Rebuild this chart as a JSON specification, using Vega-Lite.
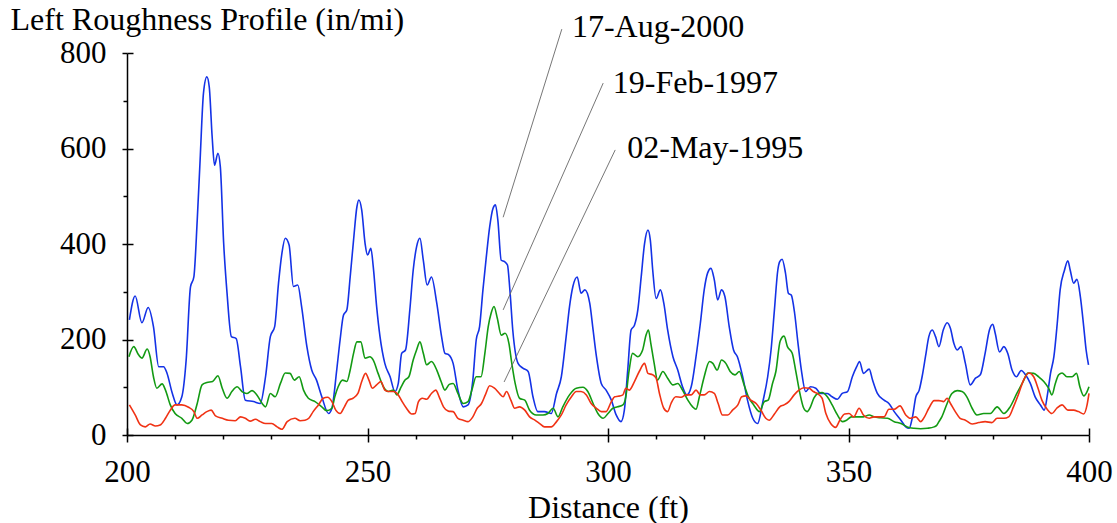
{
  "$schema": "https://vega.github.io/schema/vega-lite/v6.json",
  "width": 962,
  "height": 382,
  "autosize": {"type": "none"},
  "padding": {"left": 127, "top": 53, "right": 28, "bottom": 88},
  "background": "white",
  "config": {
    "view": {"stroke": null},
    "font": "Liberation Serif",
    "axis": {"grid": false, "domainColor": "black", "tickColor": "black", "labelColor": "black", "titleColor": "black", "labelFont": "Liberation Serif", "titleFont": "Liberation Serif", "titleFontWeight": "normal", "domainWidth": 1.5, "tickWidth": 1.5}
  },
  "datasets": {
    "profiles": [
      {"d":200.5,"v":241,"s":"17-Aug-2000"},{"d":201.7,"v":291,"s":"17-Aug-2000"},{"d":203.1,"v":235,"s":"17-Aug-2000"},{"d":204.4,"v":267,"s":"17-Aug-2000"},{"d":205.5,"v":227,"s":"17-Aug-2000"},{"d":206.6,"v":143,"s":"17-Aug-2000"},{"d":207.6,"v":143,"s":"17-Aug-2000"},{"d":208.3,"v":130,"s":"17-Aug-2000"},{"d":209.4,"v":88,"s":"17-Aug-2000"},{"d":210.4,"v":63,"s":"17-Aug-2000"},{"d":211.4,"v":80,"s":"17-Aug-2000"},{"d":212.3,"v":157,"s":"17-Aug-2000"},{"d":213.2,"v":310,"s":"17-Aug-2000"},{"d":213.9,"v":331,"s":"17-Aug-2000"},{"d":214.6,"v":450,"s":"17-Aug-2000"},{"d":215.2,"v":576,"s":"17-Aug-2000"},{"d":215.9,"v":716,"s":"17-Aug-2000"},{"d":216.6,"v":750,"s":"17-Aug-2000"},{"d":217.1,"v":729,"s":"17-Aug-2000"},{"d":217.7,"v":625,"s":"17-Aug-2000"},{"d":218.2,"v":565,"s":"17-Aug-2000"},{"d":218.9,"v":590,"s":"17-Aug-2000"},{"d":219.4,"v":562,"s":"17-Aug-2000"},{"d":220.1,"v":401,"s":"17-Aug-2000"},{"d":220.8,"v":297,"s":"17-Aug-2000"},{"d":221.7,"v":206,"s":"17-Aug-2000"},{"d":222.7,"v":202,"s":"17-Aug-2000"},{"d":223.6,"v":143,"s":"17-Aug-2000"},{"d":224.6,"v":73,"s":"17-Aug-2000"},{"d":226.3,"v":70,"s":"17-Aug-2000"},{"d":227.7,"v":66,"s":"17-Aug-2000"},{"d":228.8,"v":122,"s":"17-Aug-2000"},{"d":229.8,"v":206,"s":"17-Aug-2000"},{"d":230.7,"v":227,"s":"17-Aug-2000"},{"d":231.5,"v":318,"s":"17-Aug-2000"},{"d":232.2,"v":380,"s":"17-Aug-2000"},{"d":232.9,"v":412,"s":"17-Aug-2000"},{"d":233.7,"v":398,"s":"17-Aug-2000"},{"d":234.6,"v":311,"s":"17-Aug-2000"},{"d":235.5,"v":314,"s":"17-Aug-2000"},{"d":236.3,"v":269,"s":"17-Aug-2000"},{"d":237.4,"v":185,"s":"17-Aug-2000"},{"d":238.4,"v":136,"s":"17-Aug-2000"},{"d":239.4,"v":115,"s":"17-Aug-2000"},{"d":240.5,"v":80,"s":"17-Aug-2000"},{"d":241.9,"v":45,"s":"17-Aug-2000"},{"d":242.6,"v":56,"s":"17-Aug-2000"},{"d":243.6,"v":136,"s":"17-Aug-2000"},{"d":244.3,"v":199,"s":"17-Aug-2000"},{"d":245.0,"v":251,"s":"17-Aug-2000"},{"d":245.7,"v":262,"s":"17-Aug-2000"},{"d":246.4,"v":331,"s":"17-Aug-2000"},{"d":247.1,"v":408,"s":"17-Aug-2000"},{"d":247.8,"v":478,"s":"17-Aug-2000"},{"d":248.2,"v":492,"s":"17-Aug-2000"},{"d":248.8,"v":471,"s":"17-Aug-2000"},{"d":249.5,"v":401,"s":"17-Aug-2000"},{"d":250.0,"v":377,"s":"17-Aug-2000"},{"d":250.7,"v":391,"s":"17-Aug-2000"},{"d":251.2,"v":352,"s":"17-Aug-2000"},{"d":251.9,"v":269,"s":"17-Aug-2000"},{"d":252.6,"v":206,"s":"17-Aug-2000"},{"d":253.6,"v":150,"s":"17-Aug-2000"},{"d":254.7,"v":122,"s":"17-Aug-2000"},{"d":255.7,"v":91,"s":"17-Aug-2000"},{"d":256.4,"v":108,"s":"17-Aug-2000"},{"d":257.1,"v":171,"s":"17-Aug-2000"},{"d":257.9,"v":178,"s":"17-Aug-2000"},{"d":258.8,"v":262,"s":"17-Aug-2000"},{"d":259.5,"v":345,"s":"17-Aug-2000"},{"d":260.2,"v":394,"s":"17-Aug-2000"},{"d":260.9,"v":412,"s":"17-Aug-2000"},{"d":261.6,"v":366,"s":"17-Aug-2000"},{"d":262.4,"v":314,"s":"17-Aug-2000"},{"d":263.3,"v":331,"s":"17-Aug-2000"},{"d":264.4,"v":276,"s":"17-Aug-2000"},{"d":265.4,"v":206,"s":"17-Aug-2000"},{"d":266.1,"v":171,"s":"17-Aug-2000"},{"d":266.9,"v":168,"s":"17-Aug-2000"},{"d":267.8,"v":150,"s":"17-Aug-2000"},{"d":268.8,"v":94,"s":"17-Aug-2000"},{"d":269.9,"v":59,"s":"17-Aug-2000"},{"d":270.9,"v":63,"s":"17-Aug-2000"},{"d":271.9,"v":115,"s":"17-Aug-2000"},{"d":272.6,"v":199,"s":"17-Aug-2000"},{"d":273.3,"v":227,"s":"17-Aug-2000"},{"d":274.0,"v":304,"s":"17-Aug-2000"},{"d":274.7,"v":373,"s":"17-Aug-2000"},{"d":275.4,"v":436,"s":"17-Aug-2000"},{"d":276.1,"v":475,"s":"17-Aug-2000"},{"d":276.6,"v":482,"s":"17-Aug-2000"},{"d":277.1,"v":450,"s":"17-Aug-2000"},{"d":277.8,"v":366,"s":"17-Aug-2000"},{"d":278.5,"v":363,"s":"17-Aug-2000"},{"d":279.1,"v":356,"s":"17-Aug-2000"},{"d":279.6,"v":304,"s":"17-Aug-2000"},{"d":280.2,"v":220,"s":"17-Aug-2000"},{"d":281.3,"v":150,"s":"17-Aug-2000"},{"d":282.3,"v":140,"s":"17-Aug-2000"},{"d":283.4,"v":133,"s":"17-Aug-2000"},{"d":284.4,"v":80,"s":"17-Aug-2000"},{"d":285.4,"v":49,"s":"17-Aug-2000"},{"d":286.8,"v":49,"s":"17-Aug-2000"},{"d":288.2,"v":45,"s":"17-Aug-2000"},{"d":289.3,"v":87,"s":"17-Aug-2000"},{"d":290.3,"v":122,"s":"17-Aug-2000"},{"d":291.3,"v":206,"s":"17-Aug-2000"},{"d":292.0,"v":269,"s":"17-Aug-2000"},{"d":292.7,"v":311,"s":"17-Aug-2000"},{"d":293.6,"v":331,"s":"17-Aug-2000"},{"d":294.4,"v":297,"s":"17-Aug-2000"},{"d":295.2,"v":304,"s":"17-Aug-2000"},{"d":296.2,"v":276,"s":"17-Aug-2000"},{"d":296.9,"v":220,"s":"17-Aug-2000"},{"d":297.6,"v":164,"s":"17-Aug-2000"},{"d":298.6,"v":108,"s":"17-Aug-2000"},{"d":299.6,"v":94,"s":"17-Aug-2000"},{"d":300.7,"v":73,"s":"17-Aug-2000"},{"d":301.7,"v":42,"s":"17-Aug-2000"},{"d":302.7,"v":28,"s":"17-Aug-2000"},{"d":303.4,"v":52,"s":"17-Aug-2000"},{"d":304.1,"v":136,"s":"17-Aug-2000"},{"d":304.8,"v":220,"s":"17-Aug-2000"},{"d":305.5,"v":230,"s":"17-Aug-2000"},{"d":306.2,"v":262,"s":"17-Aug-2000"},{"d":306.9,"v":331,"s":"17-Aug-2000"},{"d":307.6,"v":401,"s":"17-Aug-2000"},{"d":308.3,"v":429,"s":"17-Aug-2000"},{"d":308.8,"v":408,"s":"17-Aug-2000"},{"d":309.3,"v":345,"s":"17-Aug-2000"},{"d":310.0,"v":286,"s":"17-Aug-2000"},{"d":310.9,"v":304,"s":"17-Aug-2000"},{"d":311.6,"v":276,"s":"17-Aug-2000"},{"d":312.4,"v":220,"s":"17-Aug-2000"},{"d":313.5,"v":164,"s":"17-Aug-2000"},{"d":314.5,"v":136,"s":"17-Aug-2000"},{"d":315.5,"v":101,"s":"17-Aug-2000"},{"d":316.4,"v":84,"s":"17-Aug-2000"},{"d":317.3,"v":101,"s":"17-Aug-2000"},{"d":318.3,"v":164,"s":"17-Aug-2000"},{"d":319.2,"v":234,"s":"17-Aug-2000"},{"d":320.0,"v":304,"s":"17-Aug-2000"},{"d":320.7,"v":339,"s":"17-Aug-2000"},{"d":321.4,"v":349,"s":"17-Aug-2000"},{"d":322.1,"v":325,"s":"17-Aug-2000"},{"d":322.8,"v":283,"s":"17-Aug-2000"},{"d":323.6,"v":304,"s":"17-Aug-2000"},{"d":324.3,"v":290,"s":"17-Aug-2000"},{"d":325.2,"v":227,"s":"17-Aug-2000"},{"d":326.1,"v":178,"s":"17-Aug-2000"},{"d":326.9,"v":164,"s":"17-Aug-2000"},{"d":328.0,"v":122,"s":"17-Aug-2000"},{"d":329.0,"v":73,"s":"17-Aug-2000"},{"d":330.1,"v":35,"s":"17-Aug-2000"},{"d":331.1,"v":24,"s":"17-Aug-2000"},{"d":332.2,"v":70,"s":"17-Aug-2000"},{"d":333.2,"v":122,"s":"17-Aug-2000"},{"d":333.9,"v":178,"s":"17-Aug-2000"},{"d":334.6,"v":262,"s":"17-Aug-2000"},{"d":335.3,"v":345,"s":"17-Aug-2000"},{"d":335.7,"v":363,"s":"17-Aug-2000"},{"d":336.2,"v":368,"s":"17-Aug-2000"},{"d":336.9,"v":339,"s":"17-Aug-2000"},{"d":337.5,"v":297,"s":"17-Aug-2000"},{"d":338.1,"v":293,"s":"17-Aug-2000"},{"d":338.8,"v":255,"s":"17-Aug-2000"},{"d":339.5,"v":192,"s":"17-Aug-2000"},{"d":340.2,"v":136,"s":"17-Aug-2000"},{"d":341.1,"v":91,"s":"17-Aug-2000"},{"d":342.1,"v":101,"s":"17-Aug-2000"},{"d":343.2,"v":98,"s":"17-Aug-2000"},{"d":344.2,"v":87,"s":"17-Aug-2000"},{"d":345.6,"v":87,"s":"17-Aug-2000"},{"d":346.6,"v":80,"s":"17-Aug-2000"},{"d":347.7,"v":75,"s":"17-Aug-2000"},{"d":348.7,"v":87,"s":"17-Aug-2000"},{"d":349.8,"v":91,"s":"17-Aug-2000"},{"d":350.8,"v":122,"s":"17-Aug-2000"},{"d":351.7,"v":143,"s":"17-Aug-2000"},{"d":352.3,"v":154,"s":"17-Aug-2000"},{"d":353.1,"v":129,"s":"17-Aug-2000"},{"d":354.3,"v":138,"s":"17-Aug-2000"},{"d":355.0,"v":115,"s":"17-Aug-2000"},{"d":356.0,"v":87,"s":"17-Aug-2000"},{"d":357.4,"v":73,"s":"17-Aug-2000"},{"d":358.4,"v":66,"s":"17-Aug-2000"},{"d":359.5,"v":49,"s":"17-Aug-2000"},{"d":360.9,"v":31,"s":"17-Aug-2000"},{"d":361.9,"v":17,"s":"17-Aug-2000"},{"d":362.6,"v":14,"s":"17-Aug-2000"},{"d":363.3,"v":38,"s":"17-Aug-2000"},{"d":364.0,"v":80,"s":"17-Aug-2000"},{"d":364.7,"v":94,"s":"17-Aug-2000"},{"d":365.3,"v":122,"s":"17-Aug-2000"},{"d":366.0,"v":164,"s":"17-Aug-2000"},{"d":366.7,"v":206,"s":"17-Aug-2000"},{"d":367.4,"v":220,"s":"17-Aug-2000"},{"d":368.1,"v":206,"s":"17-Aug-2000"},{"d":368.8,"v":185,"s":"17-Aug-2000"},{"d":369.7,"v":220,"s":"17-Aug-2000"},{"d":370.5,"v":235,"s":"17-Aug-2000"},{"d":371.2,"v":223,"s":"17-Aug-2000"},{"d":371.9,"v":192,"s":"17-Aug-2000"},{"d":372.6,"v":178,"s":"17-Aug-2000"},{"d":373.4,"v":185,"s":"17-Aug-2000"},{"d":374.3,"v":150,"s":"17-Aug-2000"},{"d":375.3,"v":105,"s":"17-Aug-2000"},{"d":376.4,"v":119,"s":"17-Aug-2000"},{"d":377.4,"v":126,"s":"17-Aug-2000"},{"d":378.4,"v":171,"s":"17-Aug-2000"},{"d":379.3,"v":220,"s":"17-Aug-2000"},{"d":380.0,"v":232,"s":"17-Aug-2000"},{"d":380.5,"v":213,"s":"17-Aug-2000"},{"d":381.4,"v":174,"s":"17-Aug-2000"},{"d":382.3,"v":185,"s":"17-Aug-2000"},{"d":383.1,"v":171,"s":"17-Aug-2000"},{"d":384.0,"v":136,"s":"17-Aug-2000"},{"d":384.9,"v":122,"s":"17-Aug-2000"},{"d":385.9,"v":135,"s":"17-Aug-2000"},{"d":386.8,"v":126,"s":"17-Aug-2000"},{"d":387.8,"v":108,"s":"17-Aug-2000"},{"d":388.8,"v":80,"s":"17-Aug-2000"},{"d":389.9,"v":63,"s":"17-Aug-2000"},{"d":390.7,"v":52,"s":"17-Aug-2000"},{"d":391.4,"v":87,"s":"17-Aug-2000"},{"d":392.0,"v":129,"s":"17-Aug-2000"},{"d":392.7,"v":164,"s":"17-Aug-2000"},{"d":393.4,"v":234,"s":"17-Aug-2000"},{"d":394.0,"v":304,"s":"17-Aug-2000"},{"d":394.9,"v":345,"s":"17-Aug-2000"},{"d":395.6,"v":365,"s":"17-Aug-2000"},{"d":396.1,"v":345,"s":"17-Aug-2000"},{"d":396.8,"v":318,"s":"17-Aug-2000"},{"d":397.5,"v":326,"s":"17-Aug-2000"},{"d":398.2,"v":290,"s":"17-Aug-2000"},{"d":398.9,"v":227,"s":"17-Aug-2000"},{"d":399.4,"v":178,"s":"17-Aug-2000"},{"d":399.9,"v":147,"s":"17-Aug-2000"},
      {"d":200.4,"v":164,"s":"19-Feb-1997"},{"d":201.4,"v":185,"s":"19-Feb-1997"},{"d":202.4,"v":168,"s":"19-Feb-1997"},{"d":203.1,"v":161,"s":"19-Feb-1997"},{"d":204.2,"v":180,"s":"19-Feb-1997"},{"d":204.8,"v":164,"s":"19-Feb-1997"},{"d":205.5,"v":122,"s":"19-Feb-1997"},{"d":206.2,"v":98,"s":"19-Feb-1997"},{"d":207.3,"v":107,"s":"19-Feb-1997"},{"d":208.0,"v":94,"s":"19-Feb-1997"},{"d":209.0,"v":63,"s":"19-Feb-1997"},{"d":210.0,"v":45,"s":"19-Feb-1997"},{"d":211.4,"v":35,"s":"19-Feb-1997"},{"d":212.5,"v":24,"s":"19-Feb-1997"},{"d":213.5,"v":31,"s":"19-Feb-1997"},{"d":214.6,"v":66,"s":"19-Feb-1997"},{"d":215.6,"v":105,"s":"19-Feb-1997"},{"d":216.6,"v":110,"s":"19-Feb-1997"},{"d":217.8,"v":112,"s":"19-Feb-1997"},{"d":218.9,"v":124,"s":"19-Feb-1997"},{"d":219.8,"v":98,"s":"19-Feb-1997"},{"d":220.8,"v":77,"s":"19-Feb-1997"},{"d":221.8,"v":91,"s":"19-Feb-1997"},{"d":222.9,"v":101,"s":"19-Feb-1997"},{"d":223.9,"v":91,"s":"19-Feb-1997"},{"d":224.9,"v":87,"s":"19-Feb-1997"},{"d":226.0,"v":93,"s":"19-Feb-1997"},{"d":227.0,"v":84,"s":"19-Feb-1997"},{"d":228.1,"v":66,"s":"19-Feb-1997"},{"d":228.8,"v":59,"s":"19-Feb-1997"},{"d":229.8,"v":87,"s":"19-Feb-1997"},{"d":230.8,"v":80,"s":"19-Feb-1997"},{"d":231.9,"v":108,"s":"19-Feb-1997"},{"d":232.9,"v":130,"s":"19-Feb-1997"},{"d":233.9,"v":129,"s":"19-Feb-1997"},{"d":234.8,"v":115,"s":"19-Feb-1997"},{"d":235.8,"v":122,"s":"19-Feb-1997"},{"d":236.7,"v":94,"s":"19-Feb-1997"},{"d":237.7,"v":77,"s":"19-Feb-1997"},{"d":239.1,"v":70,"s":"19-Feb-1997"},{"d":240.5,"v":59,"s":"19-Feb-1997"},{"d":241.5,"v":51,"s":"19-Feb-1997"},{"d":242.6,"v":56,"s":"19-Feb-1997"},{"d":243.2,"v":80,"s":"19-Feb-1997"},{"d":243.9,"v":101,"s":"19-Feb-1997"},{"d":244.8,"v":115,"s":"19-Feb-1997"},{"d":245.7,"v":112,"s":"19-Feb-1997"},{"d":246.4,"v":136,"s":"19-Feb-1997"},{"d":247.1,"v":171,"s":"19-Feb-1997"},{"d":247.8,"v":195,"s":"19-Feb-1997"},{"d":248.6,"v":195,"s":"19-Feb-1997"},{"d":249.5,"v":161,"s":"19-Feb-1997"},{"d":250.5,"v":164,"s":"19-Feb-1997"},{"d":251.2,"v":157,"s":"19-Feb-1997"},{"d":252.2,"v":129,"s":"19-Feb-1997"},{"d":253.3,"v":101,"s":"19-Feb-1997"},{"d":254.3,"v":91,"s":"19-Feb-1997"},{"d":255.4,"v":94,"s":"19-Feb-1997"},{"d":256.1,"v":84,"s":"19-Feb-1997"},{"d":257.0,"v":101,"s":"19-Feb-1997"},{"d":257.8,"v":115,"s":"19-Feb-1997"},{"d":258.6,"v":122,"s":"19-Feb-1997"},{"d":259.5,"v":157,"s":"19-Feb-1997"},{"d":260.2,"v":178,"s":"19-Feb-1997"},{"d":260.9,"v":195,"s":"19-Feb-1997"},{"d":261.6,"v":171,"s":"19-Feb-1997"},{"d":262.3,"v":147,"s":"19-Feb-1997"},{"d":263.3,"v":154,"s":"19-Feb-1997"},{"d":264.4,"v":136,"s":"19-Feb-1997"},{"d":265.3,"v":112,"s":"19-Feb-1997"},{"d":266.1,"v":94,"s":"19-Feb-1997"},{"d":267.0,"v":106,"s":"19-Feb-1997"},{"d":267.8,"v":108,"s":"19-Feb-1997"},{"d":268.8,"v":87,"s":"19-Feb-1997"},{"d":269.9,"v":66,"s":"19-Feb-1997"},{"d":270.9,"v":70,"s":"19-Feb-1997"},{"d":271.7,"v":94,"s":"19-Feb-1997"},{"d":272.6,"v":122,"s":"19-Feb-1997"},{"d":273.6,"v":122,"s":"19-Feb-1997"},{"d":274.4,"v":171,"s":"19-Feb-1997"},{"d":275.1,"v":227,"s":"19-Feb-1997"},{"d":275.7,"v":255,"s":"19-Feb-1997"},{"d":276.3,"v":269,"s":"19-Feb-1997"},{"d":277.0,"v":244,"s":"19-Feb-1997"},{"d":277.8,"v":209,"s":"19-Feb-1997"},{"d":278.6,"v":213,"s":"19-Feb-1997"},{"d":279.4,"v":192,"s":"19-Feb-1997"},{"d":280.0,"v":150,"s":"19-Feb-1997"},{"d":280.7,"v":108,"s":"19-Feb-1997"},{"d":281.6,"v":77,"s":"19-Feb-1997"},{"d":282.7,"v":73,"s":"19-Feb-1997"},{"d":283.7,"v":52,"s":"19-Feb-1997"},{"d":285.1,"v":42,"s":"19-Feb-1997"},{"d":286.5,"v":42,"s":"19-Feb-1997"},{"d":287.5,"v":45,"s":"19-Feb-1997"},{"d":288.6,"v":56,"s":"19-Feb-1997"},{"d":289.6,"v":38,"s":"19-Feb-1997"},{"d":290.6,"v":59,"s":"19-Feb-1997"},{"d":292.0,"v":84,"s":"19-Feb-1997"},{"d":293.4,"v":98,"s":"19-Feb-1997"},{"d":294.8,"v":100,"s":"19-Feb-1997"},{"d":295.8,"v":91,"s":"19-Feb-1997"},{"d":296.9,"v":66,"s":"19-Feb-1997"},{"d":297.9,"v":45,"s":"19-Feb-1997"},{"d":299.0,"v":35,"s":"19-Feb-1997"},{"d":300.0,"v":45,"s":"19-Feb-1997"},{"d":301.0,"v":56,"s":"19-Feb-1997"},{"d":302.0,"v":59,"s":"19-Feb-1997"},{"d":303.1,"v":63,"s":"19-Feb-1997"},{"d":303.7,"v":80,"s":"19-Feb-1997"},{"d":304.4,"v":136,"s":"19-Feb-1997"},{"d":305.1,"v":171,"s":"19-Feb-1997"},{"d":306.2,"v":164,"s":"19-Feb-1997"},{"d":307.2,"v":178,"s":"19-Feb-1997"},{"d":307.9,"v":209,"s":"19-Feb-1997"},{"d":308.4,"v":220,"s":"19-Feb-1997"},{"d":308.9,"v":192,"s":"19-Feb-1997"},{"d":309.6,"v":150,"s":"19-Feb-1997"},{"d":310.3,"v":115,"s":"19-Feb-1997"},{"d":311.4,"v":133,"s":"19-Feb-1997"},{"d":312.4,"v":119,"s":"19-Feb-1997"},{"d":313.5,"v":105,"s":"19-Feb-1997"},{"d":314.5,"v":108,"s":"19-Feb-1997"},{"d":315.5,"v":94,"s":"19-Feb-1997"},{"d":316.6,"v":73,"s":"19-Feb-1997"},{"d":317.6,"v":59,"s":"19-Feb-1997"},{"d":318.3,"v":54,"s":"19-Feb-1997"},{"d":319.0,"v":80,"s":"19-Feb-1997"},{"d":320.0,"v":122,"s":"19-Feb-1997"},{"d":321.1,"v":154,"s":"19-Feb-1997"},{"d":321.8,"v":150,"s":"19-Feb-1997"},{"d":322.7,"v":136,"s":"19-Feb-1997"},{"d":323.6,"v":157,"s":"19-Feb-1997"},{"d":324.5,"v":150,"s":"19-Feb-1997"},{"d":325.4,"v":133,"s":"19-Feb-1997"},{"d":326.4,"v":126,"s":"19-Feb-1997"},{"d":327.3,"v":133,"s":"19-Feb-1997"},{"d":328.2,"v":108,"s":"19-Feb-1997"},{"d":329.2,"v":80,"s":"19-Feb-1997"},{"d":330.3,"v":63,"s":"19-Feb-1997"},{"d":331.5,"v":49,"s":"19-Feb-1997"},{"d":332.5,"v":70,"s":"19-Feb-1997"},{"d":333.3,"v":73,"s":"19-Feb-1997"},{"d":334.2,"v":108,"s":"19-Feb-1997"},{"d":334.9,"v":133,"s":"19-Feb-1997"},{"d":335.8,"v":197,"s":"19-Feb-1997"},{"d":336.6,"v":207,"s":"19-Feb-1997"},{"d":337.3,"v":185,"s":"19-Feb-1997"},{"d":338.3,"v":171,"s":"19-Feb-1997"},{"d":339.0,"v":136,"s":"19-Feb-1997"},{"d":339.9,"v":87,"s":"19-Feb-1997"},{"d":340.7,"v":56,"s":"19-Feb-1997"},{"d":341.4,"v":49,"s":"19-Feb-1997"},{"d":342.1,"v":59,"s":"19-Feb-1997"},{"d":342.8,"v":77,"s":"19-Feb-1997"},{"d":343.6,"v":87,"s":"19-Feb-1997"},{"d":344.5,"v":89,"s":"19-Feb-1997"},{"d":345.6,"v":80,"s":"19-Feb-1997"},{"d":346.6,"v":63,"s":"19-Feb-1997"},{"d":347.7,"v":42,"s":"19-Feb-1997"},{"d":348.7,"v":28,"s":"19-Feb-1997"},{"d":349.6,"v":31,"s":"19-Feb-1997"},{"d":350.6,"v":38,"s":"19-Feb-1997"},{"d":351.8,"v":38,"s":"19-Feb-1997"},{"d":353.1,"v":38,"s":"19-Feb-1997"},{"d":354.3,"v":42,"s":"19-Feb-1997"},{"d":355.3,"v":38,"s":"19-Feb-1997"},{"d":356.7,"v":36,"s":"19-Feb-1997"},{"d":358.1,"v":35,"s":"19-Feb-1997"},{"d":359.5,"v":28,"s":"19-Feb-1997"},{"d":360.9,"v":24,"s":"19-Feb-1997"},{"d":362.2,"v":17,"s":"19-Feb-1997"},{"d":363.6,"v":14,"s":"19-Feb-1997"},{"d":365.0,"v":13,"s":"19-Feb-1997"},{"d":366.4,"v":14,"s":"19-Feb-1997"},{"d":367.8,"v":17,"s":"19-Feb-1997"},{"d":368.4,"v":21,"s":"19-Feb-1997"},{"d":368.8,"v":28,"s":"19-Feb-1997"},{"d":369.4,"v":38,"s":"19-Feb-1997"},{"d":369.7,"v":45,"s":"19-Feb-1997"},{"d":370.5,"v":66,"s":"19-Feb-1997"},{"d":371.5,"v":87,"s":"19-Feb-1997"},{"d":372.6,"v":93,"s":"19-Feb-1997"},{"d":373.6,"v":91,"s":"19-Feb-1997"},{"d":374.6,"v":80,"s":"19-Feb-1997"},{"d":375.7,"v":56,"s":"19-Feb-1997"},{"d":376.7,"v":42,"s":"19-Feb-1997"},{"d":378.1,"v":45,"s":"19-Feb-1997"},{"d":379.5,"v":45,"s":"19-Feb-1997"},{"d":380.9,"v":59,"s":"19-Feb-1997"},{"d":382.3,"v":45,"s":"19-Feb-1997"},{"d":383.6,"v":59,"s":"19-Feb-1997"},{"d":385.0,"v":87,"s":"19-Feb-1997"},{"d":386.3,"v":112,"s":"19-Feb-1997"},{"d":387.3,"v":130,"s":"19-Feb-1997"},{"d":388.5,"v":129,"s":"19-Feb-1997"},{"d":389.5,"v":122,"s":"19-Feb-1997"},{"d":390.6,"v":112,"s":"19-Feb-1997"},{"d":391.6,"v":98,"s":"19-Feb-1997"},{"d":392.3,"v":84,"s":"19-Feb-1997"},{"d":393.0,"v":108,"s":"19-Feb-1997"},{"d":393.7,"v":126,"s":"19-Feb-1997"},{"d":394.4,"v":130,"s":"19-Feb-1997"},{"d":395.4,"v":122,"s":"19-Feb-1997"},{"d":396.5,"v":122,"s":"19-Feb-1997"},{"d":397.4,"v":129,"s":"19-Feb-1997"},{"d":398.1,"v":101,"s":"19-Feb-1997"},{"d":398.9,"v":82,"s":"19-Feb-1997"},{"d":399.6,"v":91,"s":"19-Feb-1997"},{"d":400.0,"v":101,"s":"19-Feb-1997"},
      {"d":200.5,"v":63,"s":"02-May-1995"},{"d":201.7,"v":42,"s":"02-May-1995"},{"d":202.8,"v":21,"s":"02-May-1995"},{"d":203.8,"v":17,"s":"02-May-1995"},{"d":204.8,"v":23,"s":"02-May-1995"},{"d":205.9,"v":19,"s":"02-May-1995"},{"d":206.9,"v":21,"s":"02-May-1995"},{"d":208.0,"v":35,"s":"02-May-1995"},{"d":209.0,"v":52,"s":"02-May-1995"},{"d":210.0,"v":63,"s":"02-May-1995"},{"d":211.4,"v":63,"s":"02-May-1995"},{"d":212.8,"v":58,"s":"02-May-1995"},{"d":213.9,"v":49,"s":"02-May-1995"},{"d":214.6,"v":35,"s":"02-May-1995"},{"d":215.6,"v":42,"s":"02-May-1995"},{"d":216.6,"v":49,"s":"02-May-1995"},{"d":217.5,"v":52,"s":"02-May-1995"},{"d":218.4,"v":40,"s":"02-May-1995"},{"d":219.8,"v":35,"s":"02-May-1995"},{"d":221.1,"v":31,"s":"02-May-1995"},{"d":222.5,"v":30,"s":"02-May-1995"},{"d":223.6,"v":38,"s":"02-May-1995"},{"d":224.6,"v":35,"s":"02-May-1995"},{"d":225.6,"v":29,"s":"02-May-1995"},{"d":226.7,"v":33,"s":"02-May-1995"},{"d":227.7,"v":28,"s":"02-May-1995"},{"d":228.8,"v":24,"s":"02-May-1995"},{"d":230.1,"v":24,"s":"02-May-1995"},{"d":231.2,"v":17,"s":"02-May-1995"},{"d":232.2,"v":12,"s":"02-May-1995"},{"d":233.3,"v":28,"s":"02-May-1995"},{"d":234.9,"v":35,"s":"02-May-1995"},{"d":236.0,"v":30,"s":"02-May-1995"},{"d":237.0,"v":31,"s":"02-May-1995"},{"d":237.8,"v":35,"s":"02-May-1995"},{"d":238.7,"v":49,"s":"02-May-1995"},{"d":239.8,"v":63,"s":"02-May-1995"},{"d":240.8,"v":77,"s":"02-May-1995"},{"d":241.7,"v":79,"s":"02-May-1995"},{"d":242.6,"v":70,"s":"02-May-1995"},{"d":243.4,"v":52,"s":"02-May-1995"},{"d":244.3,"v":45,"s":"02-May-1995"},{"d":245.2,"v":59,"s":"02-May-1995"},{"d":246.0,"v":73,"s":"02-May-1995"},{"d":247.0,"v":77,"s":"02-May-1995"},{"d":248.0,"v":87,"s":"02-May-1995"},{"d":248.8,"v":112,"s":"02-May-1995"},{"d":249.6,"v":129,"s":"02-May-1995"},{"d":250.3,"v":115,"s":"02-May-1995"},{"d":251.0,"v":98,"s":"02-May-1995"},{"d":251.9,"v":105,"s":"02-May-1995"},{"d":252.8,"v":112,"s":"02-May-1995"},{"d":253.6,"v":94,"s":"02-May-1995"},{"d":254.5,"v":91,"s":"02-May-1995"},{"d":255.4,"v":91,"s":"02-May-1995"},{"d":256.4,"v":84,"s":"02-May-1995"},{"d":257.2,"v":70,"s":"02-May-1995"},{"d":258.1,"v":56,"s":"02-May-1995"},{"d":259.2,"v":44,"s":"02-May-1995"},{"d":259.9,"v":45,"s":"02-May-1995"},{"d":260.6,"v":70,"s":"02-May-1995"},{"d":261.4,"v":77,"s":"02-May-1995"},{"d":262.3,"v":75,"s":"02-May-1995"},{"d":263.3,"v":87,"s":"02-May-1995"},{"d":264.2,"v":94,"s":"02-May-1995"},{"d":264.9,"v":80,"s":"02-May-1995"},{"d":265.8,"v":59,"s":"02-May-1995"},{"d":266.8,"v":50,"s":"02-May-1995"},{"d":267.8,"v":49,"s":"02-May-1995"},{"d":268.8,"v":35,"s":"02-May-1995"},{"d":269.9,"v":31,"s":"02-May-1995"},{"d":270.9,"v":28,"s":"02-May-1995"},{"d":271.9,"v":38,"s":"02-May-1995"},{"d":272.8,"v":56,"s":"02-May-1995"},{"d":273.7,"v":66,"s":"02-May-1995"},{"d":274.5,"v":84,"s":"02-May-1995"},{"d":275.4,"v":103,"s":"02-May-1995"},{"d":276.4,"v":98,"s":"02-May-1995"},{"d":277.5,"v":86,"s":"02-May-1995"},{"d":278.2,"v":80,"s":"02-May-1995"},{"d":278.9,"v":91,"s":"02-May-1995"},{"d":279.8,"v":73,"s":"02-May-1995"},{"d":280.6,"v":56,"s":"02-May-1995"},{"d":281.6,"v":59,"s":"02-May-1995"},{"d":282.7,"v":52,"s":"02-May-1995"},{"d":283.7,"v":38,"s":"02-May-1995"},{"d":284.8,"v":31,"s":"02-May-1995"},{"d":285.8,"v":24,"s":"02-May-1995"},{"d":286.8,"v":17,"s":"02-May-1995"},{"d":288.2,"v":17,"s":"02-May-1995"},{"d":289.3,"v":28,"s":"02-May-1995"},{"d":290.3,"v":42,"s":"02-May-1995"},{"d":291.3,"v":63,"s":"02-May-1995"},{"d":292.4,"v":80,"s":"02-May-1995"},{"d":293.4,"v":91,"s":"02-May-1995"},{"d":294.4,"v":91,"s":"02-May-1995"},{"d":295.5,"v":84,"s":"02-May-1995"},{"d":296.5,"v":66,"s":"02-May-1995"},{"d":297.6,"v":56,"s":"02-May-1995"},{"d":298.6,"v":49,"s":"02-May-1995"},{"d":299.6,"v":49,"s":"02-May-1995"},{"d":300.7,"v":70,"s":"02-May-1995"},{"d":301.4,"v":80,"s":"02-May-1995"},{"d":302.1,"v":81,"s":"02-May-1995"},{"d":303.1,"v":84,"s":"02-May-1995"},{"d":303.7,"v":98,"s":"02-May-1995"},{"d":304.4,"v":94,"s":"02-May-1995"},{"d":305.5,"v":112,"s":"02-May-1995"},{"d":306.5,"v":133,"s":"02-May-1995"},{"d":307.6,"v":150,"s":"02-May-1995"},{"d":308.3,"v":129,"s":"02-May-1995"},{"d":309.3,"v":126,"s":"02-May-1995"},{"d":310.0,"v":119,"s":"02-May-1995"},{"d":310.7,"v":87,"s":"02-May-1995"},{"d":311.6,"v":56,"s":"02-May-1995"},{"d":312.4,"v":49,"s":"02-May-1995"},{"d":313.1,"v":66,"s":"02-May-1995"},{"d":314.1,"v":80,"s":"02-May-1995"},{"d":315.2,"v":79,"s":"02-May-1995"},{"d":316.2,"v":84,"s":"02-May-1995"},{"d":317.3,"v":84,"s":"02-May-1995"},{"d":318.3,"v":94,"s":"02-May-1995"},{"d":319.2,"v":84,"s":"02-May-1995"},{"d":320.0,"v":84,"s":"02-May-1995"},{"d":321.1,"v":91,"s":"02-May-1995"},{"d":322.1,"v":87,"s":"02-May-1995"},{"d":322.9,"v":66,"s":"02-May-1995"},{"d":323.8,"v":42,"s":"02-May-1995"},{"d":324.9,"v":42,"s":"02-May-1995"},{"d":325.9,"v":52,"s":"02-May-1995"},{"d":327.0,"v":63,"s":"02-May-1995"},{"d":327.8,"v":80,"s":"02-May-1995"},{"d":328.7,"v":82,"s":"02-May-1995"},{"d":329.7,"v":73,"s":"02-May-1995"},{"d":330.8,"v":66,"s":"02-May-1995"},{"d":331.8,"v":52,"s":"02-May-1995"},{"d":332.8,"v":35,"s":"02-May-1995"},{"d":333.5,"v":31,"s":"02-May-1995"},{"d":334.6,"v":44,"s":"02-May-1995"},{"d":335.7,"v":59,"s":"02-May-1995"},{"d":336.6,"v":63,"s":"02-May-1995"},{"d":337.6,"v":70,"s":"02-May-1995"},{"d":338.7,"v":84,"s":"02-May-1995"},{"d":339.7,"v":94,"s":"02-May-1995"},{"d":340.7,"v":99,"s":"02-May-1995"},{"d":341.8,"v":98,"s":"02-May-1995"},{"d":342.7,"v":91,"s":"02-May-1995"},{"d":343.5,"v":87,"s":"02-May-1995"},{"d":344.5,"v":77,"s":"02-May-1995"},{"d":345.3,"v":45,"s":"02-May-1995"},{"d":346.3,"v":24,"s":"02-May-1995"},{"d":347.3,"v":16,"s":"02-May-1995"},{"d":348.2,"v":31,"s":"02-May-1995"},{"d":349.2,"v":44,"s":"02-May-1995"},{"d":350.1,"v":45,"s":"02-May-1995"},{"d":351.1,"v":38,"s":"02-May-1995"},{"d":352.2,"v":56,"s":"02-May-1995"},{"d":353.1,"v":42,"s":"02-May-1995"},{"d":354.3,"v":35,"s":"02-May-1995"},{"d":355.3,"v":38,"s":"02-May-1995"},{"d":356.3,"v":38,"s":"02-May-1995"},{"d":357.4,"v":38,"s":"02-May-1995"},{"d":358.4,"v":54,"s":"02-May-1995"},{"d":359.5,"v":54,"s":"02-May-1995"},{"d":360.7,"v":61,"s":"02-May-1995"},{"d":361.9,"v":42,"s":"02-May-1995"},{"d":362.9,"v":35,"s":"02-May-1995"},{"d":364.0,"v":38,"s":"02-May-1995"},{"d":365.0,"v":28,"s":"02-May-1995"},{"d":365.8,"v":38,"s":"02-May-1995"},{"d":366.7,"v":56,"s":"02-May-1995"},{"d":367.8,"v":72,"s":"02-May-1995"},{"d":368.8,"v":72,"s":"02-May-1995"},{"d":369.8,"v":70,"s":"02-May-1995"},{"d":370.5,"v":77,"s":"02-May-1995"},{"d":371.2,"v":66,"s":"02-May-1995"},{"d":372.2,"v":49,"s":"02-May-1995"},{"d":373.2,"v":35,"s":"02-May-1995"},{"d":374.3,"v":31,"s":"02-May-1995"},{"d":375.7,"v":23,"s":"02-May-1995"},{"d":377.1,"v":26,"s":"02-May-1995"},{"d":378.4,"v":28,"s":"02-May-1995"},{"d":379.8,"v":26,"s":"02-May-1995"},{"d":380.9,"v":35,"s":"02-May-1995"},{"d":382.3,"v":35,"s":"02-May-1995"},{"d":383.3,"v":38,"s":"02-May-1995"},{"d":384.3,"v":59,"s":"02-May-1995"},{"d":385.4,"v":87,"s":"02-May-1995"},{"d":386.4,"v":115,"s":"02-May-1995"},{"d":387.5,"v":130,"s":"02-May-1995"},{"d":388.5,"v":122,"s":"02-May-1995"},{"d":389.4,"v":98,"s":"02-May-1995"},{"d":390.2,"v":73,"s":"02-May-1995"},{"d":391.3,"v":54,"s":"02-May-1995"},{"d":392.3,"v":45,"s":"02-May-1995"},{"d":393.3,"v":56,"s":"02-May-1995"},{"d":394.4,"v":63,"s":"02-May-1995"},{"d":395.6,"v":52,"s":"02-May-1995"},{"d":396.8,"v":52,"s":"02-May-1995"},{"d":397.8,"v":49,"s":"02-May-1995"},{"d":398.9,"v":44,"s":"02-May-1995"},{"d":399.6,"v":63,"s":"02-May-1995"},{"d":400.0,"v":87,"s":"02-May-1995"}
    ],
    "leaders": [
      {"d":278.2,"v":456,"d2":290.4,"v2":850},
      {"d":278.2,"v":262,"d2":299.0,"v2":737},
      {"d":278.4,"v":111,"d2":301.5,"v2":597}
    ],
    "labels": [
      {"d":292.5,"v":833,"t":"17-Aug-2000"},
      {"d":301.0,"v":716,"t":"19-Feb-1997"},
      {"d":304.0,"v":580,"t":"02-May-1995"}
    ]
  },
  "resolve": {"axis": {"x": "independent", "y": "independent"}},
  "layer": [
    {
      "data": {"name": "profiles"},
      "mark": {"type": "line", "strokeWidth": 1.6, "interpolate": "monotone", "clip": false},
      "encoding": {
        "x": {"field": "d", "type": "quantitative", "scale": {"domain": [200, 400], "nice": false, "zero": false},
          "axis": {"orient": "bottom", "values": [200, 250, 300, 350, 400], "title": "Distance (ft)", "tickSize": 7, "labelFontSize": 31, "labelBaseline": "alphabetic", "labelPadding": 39, "titleFontSize": 32, "titleBaseline": "alphabetic", "titleY": 82, "labelFlush": false, "labelOverlap": false}},
        "y": {"field": "v", "type": "quantitative", "scale": {"domain": [0, 800], "nice": false},
          "axis": {"orient": "left", "values": [0, 200, 400, 600, 800], "title": "Left Roughness Profile (in/mi)", "tickSize": 5, "labelFontSize": 31, "labelPadding": 16, "labelBaseline": "middle", "titleFontSize": 32, "titleAngle": 0, "titleAlign": "left", "titleBaseline": "alphabetic", "titleX": -117, "titleY": -24, "labelFlush": false, "labelOverlap": false}},
        "color": {"field": "s", "type": "nominal", "legend": null,
          "scale": {"domain": ["02-May-1995", "19-Feb-1997", "17-Aug-2000"], "range": ["#f03214", "#139a13", "#1432e6"]}},
        "order": {"field": "d", "type": "quantitative"}
      }
    },
    {
      "data": {"name": "leaders"},
      "mark": {"type": "rule", "color": "#666666", "strokeWidth": 0.9, "clip": false},
      "encoding": {
        "x": {"field": "d", "type": "quantitative",
          "axis": {"orient": "bottom", "values": [210, 220, 230, 240, 260, 270, 280, 290, 310, 320, 330, 340, 360, 370, 380, 390], "labels": false, "domain": false, "title": null, "tickSize": 4}},
        "y": {"field": "v", "type": "quantitative",
          "axis": {"orient": "left", "values": [100, 300, 500, 700], "labels": false, "domain": false, "title": null, "tickSize": 4}},
        "x2": {"field": "d2"},
        "y2": {"field": "v2"}
      }
    },
    {
      "data": {"name": "labels"},
      "mark": {"type": "text", "align": "left", "baseline": "alphabetic", "font": "Liberation Serif", "fontSize": 32, "color": "black", "clip": false},
      "encoding": {
        "x": {"field": "d", "type": "quantitative",
          "axis": {"orient": "bottom", "values": [200, 250, 300, 350, 400], "labels": false, "domain": false, "title": null, "tickSize": -7}},
        "y": {"field": "v", "type": "quantitative",
          "axis": {"orient": "left", "values": [0, 200, 400, 600, 800], "labels": false, "domain": false, "title": null, "tickSize": -6}},
        "text": {"field": "t", "type": "nominal"}
      }
    }
  ]
}
